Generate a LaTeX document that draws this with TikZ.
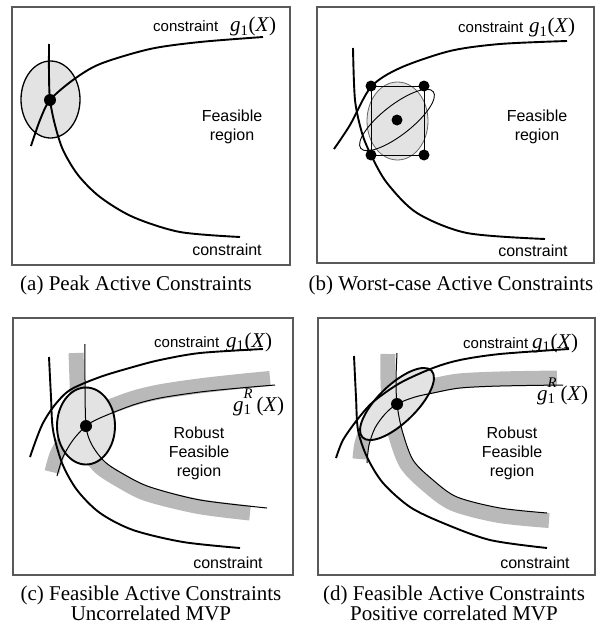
\documentclass[tikz,border=0pt]{standalone}
\usepackage{fontspec}
\setmainfont{Liberation Serif}
\setsansfont{Liberation Sans}
\newcommand\gX{\textit{g}\textsubscript{1}(\textit{X})}
\newcommand\gRX{\textit{g}\rlap{\textsubscript{1}}\raisebox{4.5pt}{\textsuperscript{\textit{R}}}\,(\textit{X})}
\begin{document}
\begin{tikzpicture}[x=1pt,y=-1pt,
    frame/.style={draw=black!65,line width=1.1pt},
    cons/.style={line width=1.9pt},
    robust/.style={line width=1pt},
    band/.style={draw=gray!55,line width=15pt},
    spread/.style={fill=gray!22},
    lbl/.style={font=\sffamily\fontsize{16}{19}\selectfont,inner sep=0pt,align=center},
    toplbl/.style={font=\sffamily\fontsize{15}{18}\selectfont,inner sep=0pt,anchor=base west},
    mth/.style={font=\rmfamily\fontsize{21}{24}\selectfont,inner sep=0pt,anchor=base west},
    caption/.style={font=\rmfamily\fontsize{21}{18}\selectfont,inner sep=0pt,align=center,anchor=north}]
    \useasboundingbox (0,0) rectangle (596,626);
    % (a) peak
    \draw[frame] (12,7) rectangle (290,265);
    \draw[spread,line width=1.3pt] (50.5,99.5) ellipse (29.5 and 38.5);
    \draw[cons] plot[smooth] coordinates {(31,146) (40,120) (50,100) (73,80) (100,64) (150,49) (200,42) (263,37)};
    \draw[cons] plot[smooth] coordinates {(49,44) (49,75) (50,100) (55,125) (63,150) (78,175) (100,197) (133,217) (180,232) (240,237)};
    \fill (50,100) circle (6);
    \node[toplbl] (con-a) at (153,32) {constraint};
    \node[mth] (g-a) at (230,32) {\gX};
    \node[lbl] (fr-a) at (232,127) {Feasible\\region};
    \node[lbl,anchor=base] (low-a) at (227,255) {constraint};
    \node[caption] (cap-a) at (136,276) {(a) Peak Active Constraints};
    % (b) worst case
    \draw[frame] (317,7) rectangle (594,263);
    \draw[spread,draw=black!60,line width=.8pt] (397.5,121) ellipse (30.5 and 39);
    \draw[line width=.9pt] (371,86) rectangle (424,155);
    \draw[line width=.9pt,rotate around={38:(397,120)}] (397,120) ellipse (46 and 15);
    \draw[cons] plot[smooth] coordinates {(334,149) (350,125) (371,87) (400,68) (450,51) (500,44) (567,41)};
    \draw[cons] plot[smooth] coordinates {(353,48) (355,100) (362,133) (371,155) (387,183) (417,213) (467,233) (545,239)};
    \foreach \p in {(371,86),(424,86),(371,155),(424,155),(397,120)}
        \fill \p circle (5.5);
    \node[toplbl] (con-b) at (458,33) {constraint};
    \node[mth] (g-b) at (529,33) {\gX};
    \node[lbl] (fr-b) at (537,127) {Feasible\\region};
    \node[lbl,anchor=base] (low-b) at (533,256) {constraint};
    \node[caption] (cap-b) at (451,276) {(b) Worst-case Active Constraints};
    % (c) uncorrelated
    \draw[frame] (13,318) rectangle (293,575);
    \draw[band] plot[smooth] coordinates {(52,472) (57.4,453.8) (68.3,435.6) (82,421) (97,412) (131,399) (159,392) (199,386) (239,381.5) (270,378.5)};
    \draw[band] plot[smooth] coordinates {(76,353) (77,380) (78.5,427) (85.8,448) (100,467) (121.5,481) (147.6,494) (198.6,506.5) (250,513)};
    \draw[spread,line width=1.9pt] (86,426) ellipse (29 and 38.5);
    \draw[cons] plot[smooth] coordinates {(30,457) (36,440) (43,423) (54,406) (70,390) (100,377) (133,367) (160,360) (200,353) (263,349)};
    \draw[cons] plot[smooth] coordinates {(49,357) (51,397) (53,430) (62,463) (77,490) (100,513) (133,530) (183,542) (240,548)};
    \draw[robust] plot[smooth] coordinates {(57,476) (63,457) (73,440) (86,426) (100,418) (133,405) (160,398) (200,392) (240,388) (275,385)};
    \draw[robust] plot[smooth] coordinates {(85,344) (85,380) (86,426) (92,445) (105,462) (125,475) (150,487) (200,500) (267,508)};
    \fill (86,426) circle (6);
    \node[toplbl] (con-c) at (154,347) {constraint};
    \node[mth] (g-c) at (226,347) {\gX};
    \node[mth] (gr-c) at (233,411) {\gRX};
    \node[lbl] (fr-c) at (199,453) {Robust\\Feasible\\region};
    \node[lbl,anchor=base] (low-c) at (228,568) {constraint};
    \node[caption] (cap-c) at (151,586) {(c) Feasible Active Constraints\\Uncorrelated MVP};
    % (d) positive correlated
    \draw[frame] (318,318) rectangle (595,575);
    \draw[band] plot[smooth] coordinates {(360,459) (362,443.6) (369,424.5) (380,409) (394,398) (413,390) (432,386) (459,381) (500,379) (557,378)};
    \draw[band] plot[smooth] coordinates {(388,354) (388,380) (389.5,404.7) (394.9,432.2) (406.5,463.7) (428,485.6) (453.8,503.7) (498.7,515.4) (549,520.5)};
    \draw[spread,line width=1.9pt,rotate around={44:(397,404)}] (397,404) ellipse (48 and 19);
    \draw[cons] plot[smooth] coordinates {(336,458) (343,440) (357,420) (373,402) (400,383) (433,368) (460,360) (500,354) (569,349)};
    \draw[cons] plot[smooth] coordinates {(354,356) (356,397) (358,430) (367,457) (383,483) (410,507) (443,523) (490,540) (547,548)};
    \draw[robust] plot[smooth] coordinates {(367,463) (369,445) (375,428) (385,414) (397,404) (415,397) (433,393) (460,388) (500,386) (563,385)};
    \draw[robust] plot[smooth] coordinates {(397,353) (396,380) (397,404) (402,430) (413,460) (433,480) (457,497) (500,508) (547,513)};
    \fill (397,404) circle (6);
    \node[toplbl] (con-d) at (463,348) {constraint};
    \node[mth] (g-d) at (532,348) {\gX};
    \node[mth] (gr-d) at (537,400) {\gRX};
    \node[lbl] (fr-d) at (512,453) {Robust\\Feasible\\region};
    \node[lbl,anchor=base] (low-d) at (535,568) {constraint};
    \node[caption] (cap-d) at (454,586) {(d) Feasible Active Constraints\\Positive correlated MVP};
\end{tikzpicture}
\end{document}
